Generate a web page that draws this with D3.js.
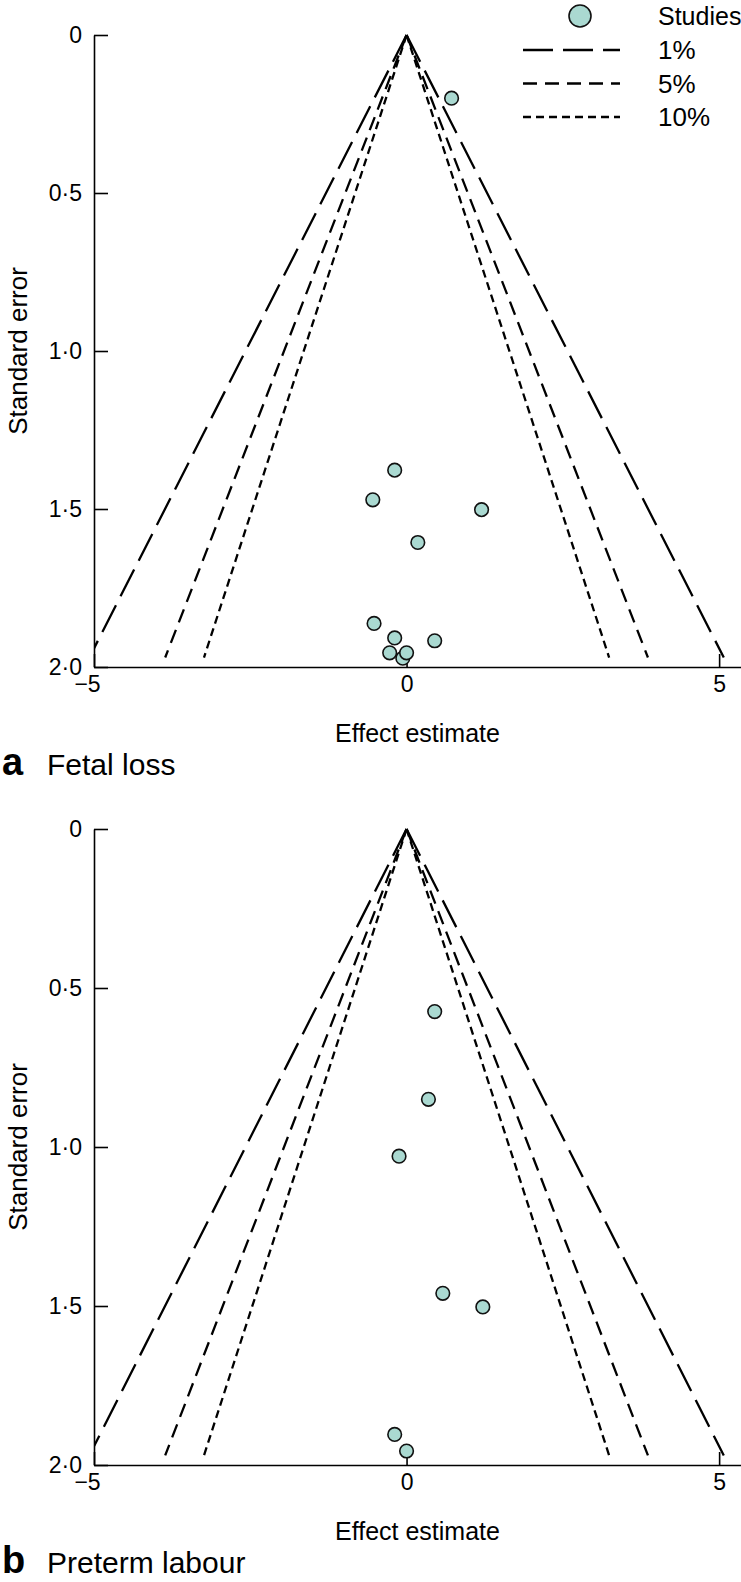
<!DOCTYPE html>
<html>
<head>
<meta charset="utf-8">
<script src="https://cdn.jsdelivr.net/npm/d3@7"></script>
<style>
  body { margin: 0; background: #fff; }
  svg { display: block; font-family: "Liberation Sans", Arial, sans-serif; }
</style>
</head>
<body>
<svg id="chart" width="741" height="1582"></svg>
<script>
// axis ticks
const seTicks = [0, 0.5, 1, 1.5, 2];
const seTickLabels = ['0', '0\u00b75', '1\u00b70', '1\u00b75', '2\u00b70'];
const effectTicks = [-5, 0, 5];
const effectTickLabels = ['\u22125', '0', '5'];

// contour levels (two-sided z for 1%, 5%, 10%)
const contourLabels = ['1%', '5%', '10%'];
const contourZ = [2.576, 1.960, 1.645];
const contourDash = ['30,10', '14,8', '8,5'];

// a: fetal loss studies
const fetalEffect = [0.72, -0.19, -0.54, 1.20, 0.18, -0.52, -0.19, 0.45, -0.27, -0.06, 0.00];
const fetalSE     = [0.20, 1.377, 1.471, 1.502, 1.606, 1.862, 1.908, 1.917, 1.955, 1.972, 1.955];

// b: preterm labour studies
const pretermEffect = [0.45, 0.35, -0.12, 0.58, 1.22, -0.19, 0.00];
const pretermSE     = [0.574, 0.850, 1.029, 1.460, 1.503, 1.904, 1.956];

const panelLetters = ['a', 'b'];
const panelTitles = ['Fetal loss', 'Preterm labour'];

const pointFill = '#aad9d1';
const seEnd = 1.97;

const svg = d3.select('#chart');
svg.append('rect').attr('width', 741).attr('height', 1582).attr('fill', '#fff');

const panels = [
    {top: 35, bottom: 667, effect: fetalEffect, se: fetalSE},
    {top: 829, bottom: 1465, effect: pretermEffect, se: pretermSE}
];

const left = 94, right = 741;

panels.forEach((p, i) => {
    const x = d3.scaleLinear().domain([-5, 5.35]).range([left, right]);
    const y = d3.scaleLinear().domain([0, 2]).range([p.top, p.bottom]);

    const g = svg.append('g');

    const clipId = 'clip' + i;
    svg.append('clipPath').attr('id', clipId)
        .append('rect')
        .attr('x', left).attr('y', p.top - 10)
        .attr('width', right - left).attr('height', p.bottom - p.top + 10);

    // funnel contours
    const lines = g.append('g').attr('clip-path', 'url(#' + clipId + ')');
    contourZ.forEach((z, k) => {
        [-1, 1].forEach(side => {
            lines.append('line')
                .attr('x1', x(0)).attr('y1', y(0))
                .attr('x2', x(side * z * seEnd)).attr('y2', y(seEnd))
                .attr('stroke', '#000')
                .attr('stroke-width', 2.3)
                .attr('stroke-dasharray', contourDash[k]);
        });
    });

    // axes
    const yAxis = d3.axisLeft(y)
        .tickValues(seTicks)
        .tickFormat((d, j) => seTickLabels[j])
        .tickSizeInner(-14)
        .tickSizeOuter(0)
        .tickPadding(12);

    const xAxis = d3.axisBottom(x)
        .tickValues(effectTicks)
        .tickFormat((d, j) => effectTickLabels[j])
        .tickSizeInner(-13)
        .tickSizeOuter(0)
        .tickPadding(9);

    const ya = g.append('g')
        .attr('transform', 'translate(' + left + ',0)')
        .call(yAxis);
    const xa = g.append('g')
        .attr('transform', 'translate(0,' + p.bottom + ')')
        .call(xAxis);

    [ya, xa].forEach(a => {
        a.selectAll('path, line').attr('stroke', '#000').attr('stroke-width', 1.6);
        a.selectAll('text').attr('font-size', 23).attr('fill', '#000')
            .attr('font-family', '"Liberation Sans", Arial, sans-serif');
    });
    // the minus label sits a little left of its tick
    xa.selectAll('.tick text').filter(d => d < 0).attr('dx', -7);

    // studies
    g.append('g').selectAll('circle')
        .data(p.effect.map((e, j) => ({e: e, s: p.se[j]})))
        .join('circle')
        .attr('cx', d => x(d.e))
        .attr('cy', d => y(d.s))
        .attr('r', 6.8)
        .attr('fill', pointFill)
        .attr('stroke', '#111')
        .attr('stroke-width', 1.6);

    // titles
    g.append('text')
        .attr('transform', 'translate(18,' + ((p.top + p.bottom) / 2) + ') rotate(-90)')
        .attr('text-anchor', 'middle')
        .attr('dominant-baseline', 'central')
        .attr('font-size', 26)
        .text('Standard error');

    g.append('text')
        .attr('x', (left + right) / 2)
        .attr('y', p.bottom + 75)
        .attr('text-anchor', 'middle')
        .attr('font-size', 25)
        .text('Effect estimate');

    g.append('text')
        .attr('x', 2)
        .attr('y', p.bottom + 108)
        .attr('font-size', 38)
        .attr('font-weight', 'bold')
        .text(panelLetters[i]);

    g.append('text')
        .attr('x', 47)
        .attr('y', p.bottom + 108)
        .attr('font-size', 30)
        .text(panelTitles[i]);
});

// legend
const legend = svg.append('g');
legend.append('circle')
    .attr('cx', 580).attr('cy', 16).attr('r', 11)
    .attr('fill', pointFill).attr('stroke', '#111').attr('stroke-width', 1.6);
legend.append('text')
    .attr('x', 658).attr('y', 16)
    .attr('dominant-baseline', 'central')
    .attr('font-size', 25)
    .text('Studies');

contourLabels.forEach((lab, k) => {
    const ly = 50 + k * 33.5;
    legend.append('line')
        .attr('x1', 523).attr('x2', 620)
        .attr('y1', ly).attr('y2', ly)
        .attr('stroke', '#000').attr('stroke-width', 2.3)
        .attr('stroke-dasharray', contourDash[k]);
    legend.append('text')
        .attr('x', 658).attr('y', ly)
        .attr('dominant-baseline', 'central')
        .attr('font-size', 26)
        .text(lab);
});
</script>
</body>
</html>
